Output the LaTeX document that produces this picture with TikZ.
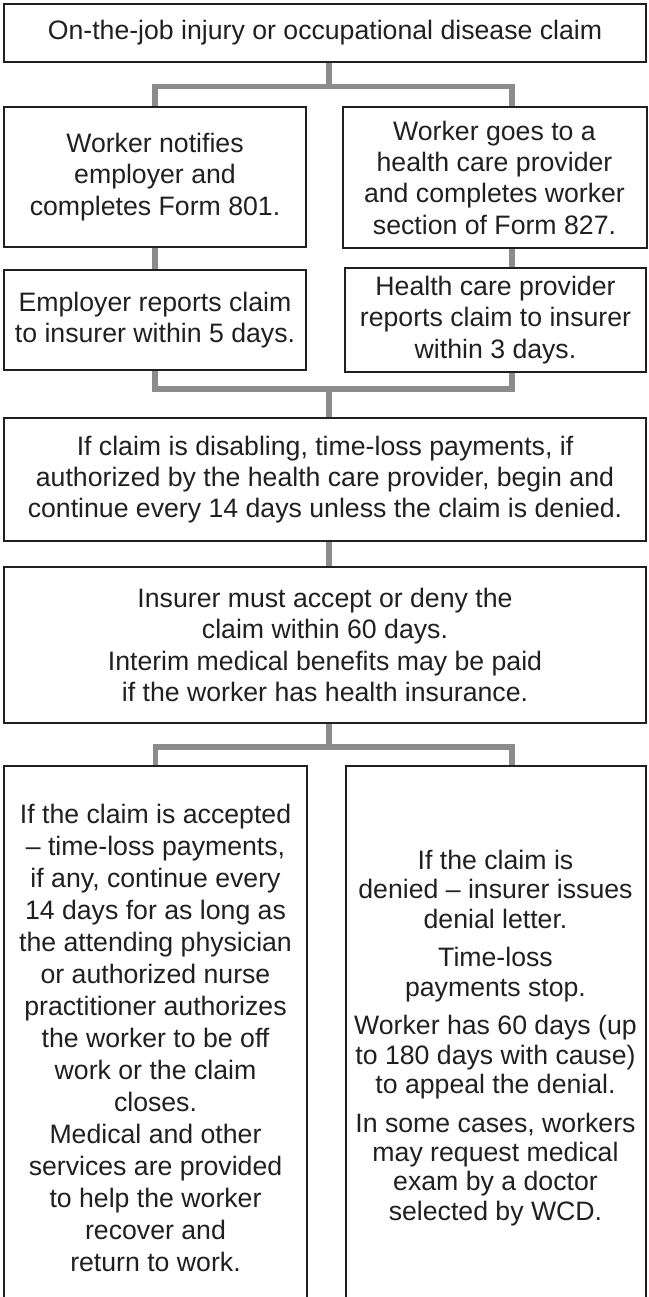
\documentclass[tikz,border=0pt]{standalone}
\usepackage{fontspec}
\setmainfont{Liberation Sans}
\usetikzlibrary{backgrounds}
\definecolor{inkblack}{HTML}{231F20}
\definecolor{linkgray}{HTML}{8C8C8C}

\begin{document}
\begin{tikzpicture}[
    x=0.75pt, y=-0.75pt,
    box/.style={
      draw=inkblack, line width=1.5pt, fill=white, text=inkblack,
      inner sep=0pt, align=center, font=\fontsize{20pt}{23.5pt}\selectfont
    },
    link/.style={draw=linkgray, line width=4.2pt}
  ]
    \useasboundingbox (0,0) rectangle (649,1297);
    \clip (0,0) rectangle (649,1297);

    % Boxes (top to bottom)
    \node[box, minimum width=481.5pt, minimum height=43.5pt] (claim) at (325, 33)
      {On-the-job injury or occupational disease claim};
    \node[box, minimum width=226.5pt, minimum height=105pt]  (notify) at (155, 177)
      {Worker notifies\\employer and\\completes Form 801.};
    \node[box, minimum width=228pt, minimum height=105.75pt] (doctor) at (494.5, 177.5)
      {Worker goes to a\\health care provider\\and completes worker\\section of Form 827.};
    \node[box, minimum width=226.5pt, minimum height=75pt]   (employer) at (155, 320)
      {Employer reports claim\\to insurer within 5 days.};
    \node[box, minimum width=225.75pt, minimum height=78pt]  (hcpreport) at (495.5, 320)
      {Health care provider\\reports claim to insurer\\within 3 days.};
    \node[box, minimum width=481.5pt, minimum height=92.25pt] (disabling) at (325, 479.5)
      {If claim is disabling, time-loss payments, if\\authorized by the health care provider, begin and\\continue every 14 days unless the claim is denied.};
    \node[box, minimum width=481.5pt, minimum height=117pt] (decision) at (325, 645)
      {Insurer must accept or deny the\\claim within 60 days.\\Interim medical benefits may be paid\\if the worker has health insurance.};

    % Outcome boxes run off the bottom edge
    \node[box, minimum width=227.25pt, minimum height=408pt, font=\fontsize{20pt}{24pt}\selectfont]
      (accepted) at (155.5, 1038)
      {If the claim is accepted\\-- time-loss payments,\\if any, continue every\\14 days for as long as\\the attending physician\\or authorized nurse\\practitioner authorizes\\the worker to be off\\work or the claim\\closes.\\Medical and other\\services are provided\\to help the worker\\recover and\\return to work.};
    \node[box, minimum width=225pt, minimum height=408pt, font=\fontsize{20pt}{22pt}\selectfont]
      (denied) at (495.5, 1038)
      {If the claim is\\denied -- insurer issues\\denial letter.\\[7pt]Time-loss\\payments stop.\\[7pt]Worker has 60 days (up\\to 180 days with cause)\\to appeal the denial.\\[7pt]In some cases, workers\\may request medical\\exam by a doctor\\selected by WCD.};

    % Connectors
    \coordinate (rx) at (512, 0);
    \coordinate (fork1) at (329, 86.5);
    \coordinate (fork2) at (329, 389);
    \coordinate (fork3) at (329, 747);
    \begin{scope}[on background layer]
      \draw[link] (claim.south -| fork1) -- (fork1);
      \draw[link] (notify.north) |- (fork1) -| (doctor.north -| rx);
      \draw[link] (notify.south) -- (employer.north);
      \draw[link] (doctor.south -| rx) -- (hcpreport.north -| rx);
      \draw[link] (employer.south) |- (fork2) -| (hcpreport.south -| rx);
      \draw[link] (fork2) -- (disabling.north -| fork2);
      \draw[link] (disabling.south -| fork2) -- (decision.north -| fork2);
      \draw[link] (decision.south -| fork3) -- (fork3);
      \draw[link] (accepted.north) |- (fork3) -| (denied.north -| rx);
    \end{scope}
  \end{tikzpicture}
\end{document}
